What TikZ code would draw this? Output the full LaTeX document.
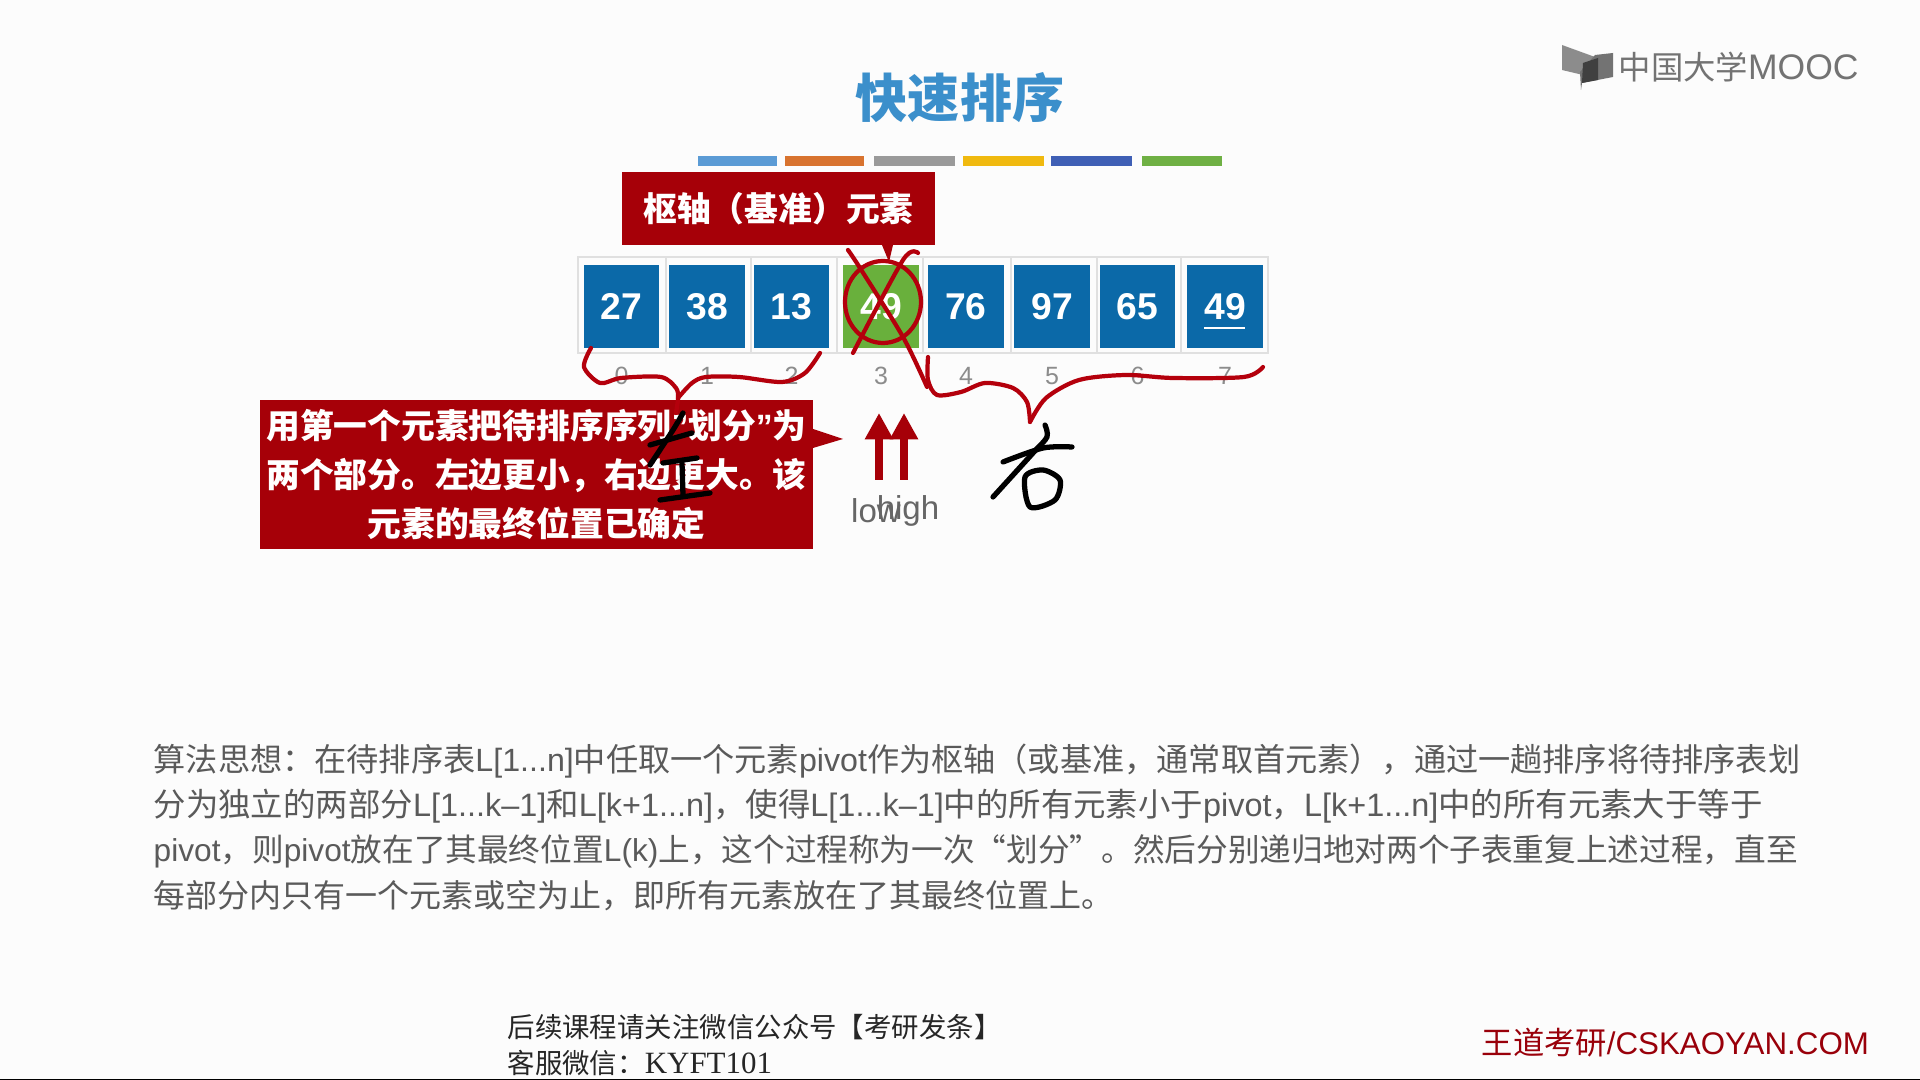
\documentclass[tikz,border=0pt]{standalone}
\usepackage{fontspec}
\setmainfont{Liberation Sans}
\newfontfamily\cjk{Noto Sans CJK SC}
\newfontfamily\footen{Liberation Serif}
\usetikzlibrary{arrows.meta}
\newcommand{\lat}[1]{{\rmfamily #1}}
\definecolor{cellblue}{HTML}{0B69A8}
\definecolor{cellgreen}{HTML}{69B03C}
\definecolor{boxred}{HTML}{A60008}
\definecolor{inkred}{HTML}{B4000C}
\definecolor{titleblue}{HTML}{3B8FCB}
\definecolor{bodygray}{HTML}{5A5A5A}
\definecolor{barblue}{HTML}{5B9BD5}
\definecolor{barorange}{HTML}{D8732F}
\definecolor{bargray}{HTML}{9A9A9A}
\definecolor{baryellow}{HTML}{F0B90F}
\definecolor{bardeep}{HTML}{3F5FB5}
\definecolor{bargreen}{HTML}{6FB044}
\tikzset{
	cellbox/.style={minimum width=0.75cm,minimum height=0.83cm,inner sep=0pt,text=white,font=\bfseries\fontsize{10.6}{12}\selectfont},
	idxlabel/.style={text=black!45,inner sep=0pt,font=\fontsize{7.1}{9}\selectfont},
	ptrlabel/.style={text=black!60,inner sep=0pt,font=\fontsize{9.4}{11}\selectfont},
	redbox/.style={fill=boxred,text=white,inner sep=0pt,align=center,font=\cjk\bfseries\fontsize{9.6}{13.9}\selectfont},
	bodyline/.style={anchor=west,text=bodygray,inner sep=0pt,font=\cjk\fontsize{#1}{11}\selectfont},
	footline/.style={anchor=west,text=black!85,inner sep=0pt,font=\cjk\fontsize{7.8}{9}\selectfont},
	scribble/.style={inkred,line width=1.2pt,line cap=round,line join=round},
	hand/.style={black,line width=1.5pt,line cap=round,line join=round},
	ptr/.style={boxred,line width=2pt,-{Triangle[length=7.5pt,width=7.6pt]}}
}
\begin{document}
\begin{tikzpicture}[x=0.01cm,y=-0.01cm]
	\useasboundingbox (0,0) rectangle (1920,1080);
	\fill[black!1] (0,0) rectangle (1920,1080);
	\fill[black] (0,1079) rectangle (1920,1080);
	\node[text=titleblue,inner sep=0pt,font=\cjk\bfseries\fontsize{14.8}{16}\selectfont] (title) at (960,98) {快速排序};
	\foreach \a/\b/\c in {698/777/barblue,785/864/barorange,874/955/bargray,963/1044/baryellow,1051/1132/bardeep,1142/1222/bargreen}
		\fill[\c] (\a,156) rectangle (\b,166);
	\draw[black!12,line width=0.6pt] (578,257) rectangle (1268,353);
	\foreach \x in {666,751,837,923,1011,1097,1181}
		\draw[black!12,line width=0.6pt] (\x,257) -- (\x,353);
	\foreach \i/\x/\v/\c in {0/621.5/27/cellblue,1/707/38/cellblue,2/791.5/13/cellblue,3/881/49/cellgreen,4/966/76/cellblue,5/1052/97/cellblue,6/1137.5/65/cellblue,7/1225/49/cellblue} {
		\node[cellbox,fill=\c] (cell\i) at (\x,306.5) {\v};
		\node[idxlabel] (idx\i) at (\x,376) {\i};
	}
	\draw[white,line width=0.7pt] (1204,328) -- (1245,328);
	\node[redbox,minimum width=3.13cm,minimum height=0.73cm] (pivotbox) at (778.5,208.5) {枢轴（基准）元素};
	\fill[boxred] (882,245) -- (893,245) -- (889,262) -- cycle;
	\node[redbox,minimum width=5.53cm,minimum height=1.49cm] (splitbox) at (536.5,474.5) {用第一个元素把待排序序列\lat{"}划分\lat{"}为\\两个部分。左边更小，右边更大。该\\元素的最终位置已确定};
	\fill[boxred] (813,429) -- (843,439) -- (813,448) -- cycle;
	\coordinate (lowtail) at (879,480);
	\coordinate (lowtip) at (879,413);
	\coordinate (hightail) at (904,480);
	\coordinate (hightip) at (904,413);
	\draw[ptr] (lowtail) -- (lowtip);
	\draw[ptr] (hightail) -- (hightip);
	\node[ptrlabel] (lowlabel) at (876,511) {low};
	\node[ptrlabel] (highlabel) at (908,511) {high};
	\draw[scribble] (883,302) ellipse (38 and 41);
	\draw[scribble] plot[smooth] coordinates {(848,250) (860,268) (903,337) (927,387)};
	\draw[scribble] plot[smooth] coordinates {(918,253) (903,260) (853,353)};
	\draw[scribble] plot[smooth] coordinates {(591,348) (584,367) (600,383) (621,378) (661,377) (676,388) (678,398) (676,413)};
	\draw[scribble] plot[smooth] coordinates {(678,398) (692,383) (706,377) (739,377) (782,382) (805,373) (820,353)};
	\draw[scribble] plot[smooth] coordinates {(928,357) (928,380) (937,395) (961,392) (985,383) (1013,388) (1027,402) (1030,422)};
	\draw[scribble] plot[smooth] coordinates {(1030,422) (1046,398) (1079,380) (1126,375) (1173,378) (1244,377) (1263,367)};
	\draw[hand] (650,445) -- (692,433);
	\draw[hand] plot[smooth] coordinates {(683,413) (673,430) (650,465)};
	\draw[hand] (663,463) -- (697,458);
	\draw[hand] (682,463) -- (683,495);
	\draw[hand] (660,500) -- (710,493);
	\draw[hand] plot[smooth] coordinates {(1045,425) (1047,437) (1033,453) (993,497)};
	\draw[hand] plot[smooth] coordinates {(1003,462) (1043,448) (1072,447)};
	\draw[hand] plot[smooth cycle] coordinates {(1025,477) (1043,470) (1060,480) (1055,500) (1030,507)};
	\node[bodyline=9.15] (bodya) at (153,761) {算法思想：在待排序表\lat{L[1...n]}中任取一个元素\lat{pivot}作为枢轴（或基准，通常取首元素），通过一趟排序将待排序表划};
	\node[bodyline=9.22] (bodyb) at (153,806) {分为独立的两部分\lat{L[1...k--1]}和\lat{L[k+1...n]}，使得\lat{L[1...k--1]}中的所有元素小于\lat{pivot}，\lat{L[k+1...n]}中的所有元素大于等于};
	\node[bodyline=9.0] (bodyc) at (153,851) {\lat{pivot}，则\lat{pivot}放在了其最终位置\lat{L(k)}上，这个过程称为一次“划分”。然后分别递归地对两个子表重复上述过程，直至};
	\node[bodyline=9.1] (bodyd) at (153,896) {每部分内只有一个元素或空为止，即所有元素放在了其最终位置上。};
	\node[footline] (foota) at (507,1027) {后续课程请关注微信公众号【考研发条】};
	\node[footline] (footb) at (507,1063) {客服微信：{\footen\fontsize{8.8}{9}\selectfont KYFT101}};
	\node[anchor=west,text=inkred!85!black,inner sep=0pt,font=\cjk\fontsize{8.9}{10}\selectfont] (brand) at (1481,1043) {王道考研\lat{/CSKAOYAN.COM}};
	\fill[black!45] (1562,45) -- (1595,57) -- (1583,75) -- (1562,70) -- cycle;
	\fill[black!55] (1595,55) -- (1613,53) -- (1613,77) -- (1582,83) -- (1581,90) -- (1580,72) -- cycle;
	\fill[black!75] (1583,63) -- (1598,58) -- (1598,80) -- (1582,83) -- cycle;
	\node[anchor=west,text=black!55,inner sep=0pt,font=\cjk\fontsize{9.2}{11}\selectfont] (logotext) at (1618,67) {中国大学{\rmfamily\fontsize{10.1}{11}\selectfont MOOC}};
\end{tikzpicture}
\end{document}
